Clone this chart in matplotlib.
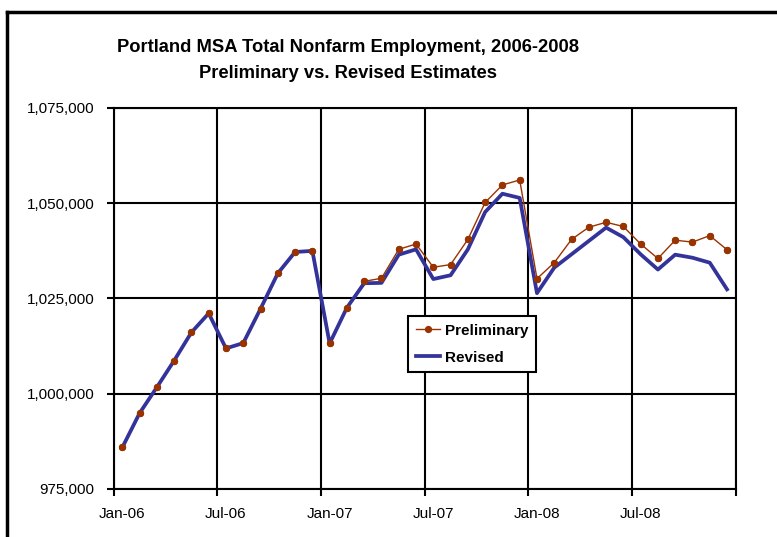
import matplotlib.pyplot as plt
from matplotlib.lines import Line2D
from matplotlib.ticker import FuncFormatter

plt.rcParams['font.family'] = ['Liberation Sans', 'DejaVu Sans']

# monthly estimates, Jan-06 .. Dec-08
preliminary = [985900, 994900, 1001700, 1008700, 1016100, 1021100,
               1011900, 1013300, 1022300, 1031600, 1037200, 1037500,
               1013200, 1022600, 1029500, 1030300, 1037900, 1039300,
               1033200, 1033900, 1040500, 1050200, 1054800, 1056100,
               1030200, 1034400, 1040500, 1043700, 1045000, 1043900,
               1039300, 1035500, 1040300, 1039800, 1041500, 1037800]
revised = [985900, 994900, 1001700, 1008700, 1016100, 1021100,
           1011900, 1013300, 1022300, 1031600, 1037200, 1037500,
           1013200, 1022600, 1029000, 1029100, 1036500, 1037900,
           1030100, 1031100, 1037900, 1047700, 1052500, 1051400,
           1026400, 1033100, 1036600, 1040100, 1043600, 1041100,
           1036600, 1032600, 1036500, 1035700, 1034400, 1027400]
tick_labels = ['Jan-06', 'Jul-06', 'Jan-07', 'Jul-07', 'Jan-08', 'Jul-08']

months = list(range(len(preliminary)))

fig = plt.figure(figsize=(7.77, 5.37), dpi=100)
ax = fig.add_axes([0.1463, 0.0894, 0.8005, 0.7095])

prelim_color = '#993300'
rev_color = '#333399'

ax.plot(months, preliminary, color=prelim_color, lw=1.0, marker='o', ms=4.2,
        label='Preliminary', zorder=3)
ax.plot(months, revised, color=rev_color, lw=2.7, label='Revised', zorder=4)
ax.plot(months, preliminary, ls='none', marker='o', ms=4.2, color=prelim_color, zorder=5)

ax.set_xlim(-0.5, 35.5)
ax.set_ylim(975000, 1075000)
ax.set_yticks(range(975000, 1075001, 25000))
ax.yaxis.set_major_formatter(FuncFormatter(lambda v, p: f'{int(v):,}'))

# gridlines/ticks on month boundaries, labels centred on the month
ax.set_xticks([-0.5 + 6 * i for i in range(7)])
ax.set_xticklabels([])
ax.set_xticks([6 * i for i in range(6)], minor=True)
ax.set_xticklabels(tick_labels, minor=True)
ax.tick_params(axis='x', which='minor', length=0, pad=13, labelsize=11)
ax.tick_params(axis='x', which='major', length=5, width=1.5, direction='out')
ax.tick_params(axis='y', length=5, width=1.5, direction='out', pad=9, labelsize=11)

ax.grid(True, which='major', color='black', lw=1.5)
for s in ax.spines.values():
    s.set_linewidth(1.5)
    s.set_color('black')

leg = ax.legend(loc='upper left', bbox_to_anchor=(0.473, 0.454), frameon=True,
                fancybox=False, edgecolor='black', framealpha=1, borderaxespad=0,
                prop={'weight': 'bold', 'size': 11}, handlelength=1.6,
                handletextpad=0.3, borderpad=0.5, labelspacing=0.85)
leg.get_frame().set_linewidth(1.5)

fig.text(0.448, 0.912, 'Portland MSA Total Nonfarm Employment, 2006-2008',
         ha='center', va='center', fontsize=13.2, fontweight='bold')
fig.text(0.448, 0.864, 'Preliminary vs. Revised Estimates',
         ha='center', va='center', fontsize=13.2, fontweight='bold')

# outer chart border (top and left edges visible)
fig.add_artist(Line2D([7 / 777, 1.0], [1 - 12 / 537, 1 - 12 / 537],
                      transform=fig.transFigure, color='black', lw=2.5))
fig.add_artist(Line2D([7 / 777, 7 / 777], [0.0, 1 - 12 / 537],
                      transform=fig.transFigure, color='black', lw=2.5))

fig.savefig('out.png', dpi=100)
